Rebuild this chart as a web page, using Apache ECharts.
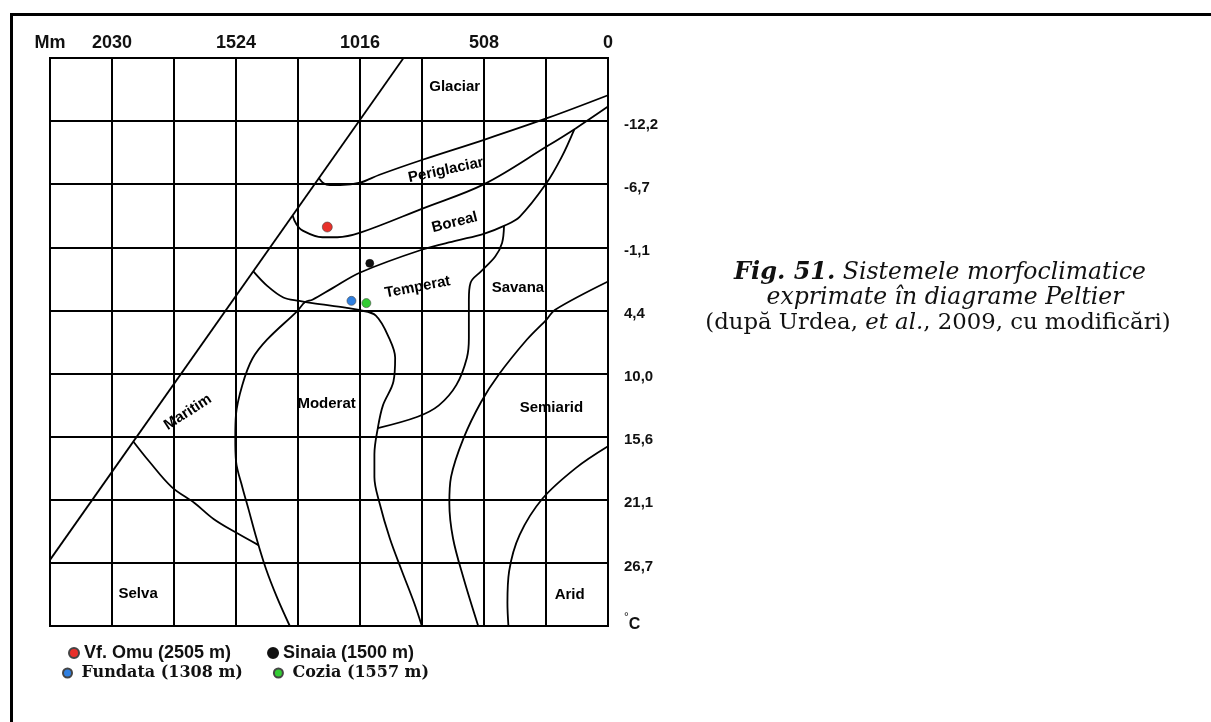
<!DOCTYPE html>
<html><head><meta charset="utf-8">
<script src="https://cdn.jsdelivr.net/npm/echarts@6/dist/echarts.min.js"></script>
<style>html,body{margin:0;padding:0;background:#fff}#c{width:1211px;height:722px}</style>
</head><body><div id="c"></div>
<script>
// Axis tick labels (x ticks every 254 mm = 10 in; y ticks every 10 °F, labelled in °C)
const rainTickLabels = ['0', '', '508', '', '1016', '', '1524', '', '2030', 'Mm'];
const tempTickLabels = ['', '-12,2', '-6,7', '-1,1', '4,4', '10,0', '15,6', '21,1', '26,7', '°C'];

// Boundary curves: [precipitation mm, temperature °C]
const maritimeDiagonal = [[837, -17.8], [2286, 26.4]];
const glacierBoundary = [[0, -14.5], [247, -12.5], [505, -10.6], [763, -8.8], [936, -7.5], [1016, -6.8], [1097, -6.6], [1140, -6.6], [1165, -6.75], [1184, -7.2]];
const periglacialBoundary = [[0, -13.5], [131, -11.6], [250, -10.0], [505, -6.7], [763, -4.5], [1015, -2.4], [1109, -2.0], [1170, -2.0], [1252, -2.6], [1278, -3.2], [1292, -3.9]];
const borealBoundary = [[138, -11.5], [189, -9.1], [254, -6.7], [362, -3.8], [426, -3.0], [509, -2.3], [621, -1.7], [763, -0.9], [1015, 1.1], [1130, 2.5], [1211, 3.5], [1241, 3.7], [1273, 4.5], [1396, 7.0], [1457, 8.7], [1498, 11.0], [1524, 13.6], [1527, 15.7], [1524, 17.7], [1498, 20.0], [1472, 22.0], [1440, 24.5], [1401, 27.2], [1356, 29.7], [1304, 32.2]];
const savanaBoundary = [[426, -3.0], [434, -1.5], [462, -0.3], [520, 1.0], [563, 2.0], [570, 3.5], [570, 5.2], [570, 6.9], [578, 8.6], [621, 11.0], [693, 12.8], [780, 13.8], [943, 14.8]];
const moderateBoundary = [[1453, 1.0], [1395, 2.3], [1330, 3.3], [1265, 3.6], [1211, 3.8], [1076, 4.2], [1021, 4.4], [951, 4.9], [894, 7.0], [872, 8.6], [879, 10.7], [922, 12.8], [943, 14.8], [957, 17.1], [957, 19.1], [936, 21.4], [894, 24.5], [844, 27.4], [794, 30.2], [763, 32.2]];
const semiaridBoundary = [[0, 1.9], [218, 4.4], [250, 5.2], [332, 7.0], [448, 10.1], [520, 12.5], [592, 15.7], [643, 19.1], [650, 21.4], [635, 24.5], [592, 28.0], [532, 32.2]];
const aridBoundary = [[0, 16.4], [131, 18.3], [268, 21.0], [362, 24.2], [405, 27.4], [412, 30.2], [408, 32.2]];
const selvaBoundary = [[1944, 16.0], [1881, 17.7], [1787, 20.0], [1694, 21.4], [1616, 22.8], [1524, 24.0], [1432, 25.1]];

// Stations: [mm, °C]
const stationNames = ['Vf. Omu (2505 m)', 'Sinaia (1500 m)', 'Fundata (1308 m)', 'Cozia (1557 m)'];
const stationValues = [[1150, -2.9], [976, 0.3], [1051, 3.6], [990, 3.8]];

// Region names: [name, mm, °C, text angle]
const regionLabels = [
  ['Glaciar', 628, -15.2, 0], ['Periglaciar', 664, -7.9, 12], ['Boreal', 628, -3.3, 14],
  ['Temperat', 780, 2.4, 11], ['Savana', 369, 2.5, 0], ['Moderat', 1153, 12.7, 0],
  ['Semiarid', 232, 13.0, 0], ['Maritim', 1721, 13.4, 33], ['Selva', 1925, 29.4, 0], ['Arid', 157, 29.5, 0]
];

const toF = c => c * 9 / 5 + 32;
const conv = arr => arr.map(p => [p[0], toF(p[1])]);

const curves = [maritimeDiagonal, glacierBoundary, periglacialBoundary, borealBoundary, savanaBoundary, moderateBoundary, semiaridBoundary, aridBoundary, selvaBoundary];
const stationColors = ['#e8302a', '#111111', '#2f7fe0', '#33cc33'];
const stationSizes = [10, 8, 9, 9];

const series = curves.map(c => ({
  type: 'line', data: conv(c), smooth: c.length > 2 ? 0.35 : 0, showSymbol: false, silent: true,
  lineStyle: { color: '#000', width: 1.8 }, z: 3
}));
series.push({
  type: 'scatter', silent: true, symbolSize: 0, z: 4, itemStyle: { opacity: 1 },
  data: regionLabels.map(r => ({ name: r[0], value: [r[1], toF(r[2])], label: { rotate: r[3] } })),
  label: { show: true, position: 'inside', opacity: 1, formatter: p => p.name, fontFamily: 'Liberation Sans, Arial, sans-serif', fontWeight: 'bold', fontSize: 15, color: '#000', textBorderWidth: 0 }
});
stationNames.forEach((n, i) => {
  series.push({
    type: 'scatter', name: n, data: [[stationValues[i][0], toF(stationValues[i][1])]], symbolSize: stationSizes[i], z: 5,
    itemStyle: { color: stationColors[i], borderColor: i === 1 ? '#111' : '#444', borderWidth: 0.6, opacity: 1 }
  });
});

const chart = echarts.init(document.getElementById('c'), null, { renderer: 'canvas' });
chart.setOption({
  animation: false,
  backgroundColor: '#fff',
  grid: { left: 50, top: 58, right: 603, bottom: 96, show: true, borderColor: '#000', borderWidth: 2, containLabel: false },
  xAxis: {
    type: 'value', min: 0, max: 2286, interval: 254, inverse: true, position: 'top',
    axisLine: { show: true, lineStyle: { color: '#000', width: 2 } }, axisTick: { show: false },
    splitLine: { show: true, lineStyle: { color: '#000', width: 2 } },
    axisLabel: { margin: 6, formatter: v => rainTickLabels[Math.round(v / 254)] || '', fontFamily: 'Liberation Sans, Arial, sans-serif', fontWeight: 'bold', fontSize: 18, color: '#111', showMinLabel: true, showMaxLabel: true }
  },
  yAxis: {
    type: 'value', min: 0, max: 90, interval: 10, inverse: true, position: 'right',
    axisLine: { show: true, lineStyle: { color: '#000', width: 2 } }, axisTick: { show: false },
    splitLine: { show: true, lineStyle: { color: '#000', width: 2 } },
    axisLabel: { margin: 16, align: 'left', padding: [7, 0, 0, 0],
      formatter: v => { const t = tempTickLabels[Math.round(v / 10)] || ''; return t === '°C' ? '{d|°}{c|C}' : t; },
      rich: { d: { fontSize: 12, fontWeight: 'normal', fontFamily: 'Liberation Sans, Arial, sans-serif', color: '#111', padding: [0, 0, 24, 0] },
              c: { fontSize: 16, fontWeight: 'bold', fontFamily: 'Liberation Sans, Arial, sans-serif', color: '#111', padding: [0, 0, 10, 0] } },
      fontFamily: 'Liberation Sans, Arial, sans-serif', fontWeight: 'bold', fontSize: 15, color: '#111', showMinLabel: true, showMaxLabel: true }
  },
  legend: [
    { data: stationNames.slice(0, 2), left: 63, top: 639, orient: 'horizontal', icon: 'circle', itemWidth: 10, itemHeight: 10, itemGap: 36, selectedMode: false,
      textStyle: { fontFamily: 'Liberation Sans, Arial, sans-serif', fontWeight: 'bold', fontSize: 18, color: '#111' } },
    { data: stationNames.slice(2), left: 57, top: 660, orient: 'horizontal', icon: 'circle', itemWidth: 18, itemHeight: 9, itemGap: 30, selectedMode: false,
      textStyle: { fontFamily: 'DejaVu Serif, serif', fontWeight: 'bold', fontSize: 16, color: '#111' } }
  ],
  graphic: [
    { type: 'line', shape: { x1: 10, y1: 14.5, x2: 1211, y2: 14.5 }, style: { stroke: '#000', lineWidth: 3 } },
    { type: 'line', shape: { x1: 11.5, y1: 13, x2: 11.5, y2: 722 }, style: { stroke: '#000', lineWidth: 3 } },
    { type: 'text', x: 940, y: 273, style: { text: '{b|Fig. 51.} Sistemele morfoclimatice', align: 'center', verticalAlign: 'middle', fill: '#111', font: 'italic 23.5px "DejaVu Serif", serif',
      rich: { b: { fontWeight: 'bold', fontStyle: 'italic', fontSize: 24, fontFamily: 'DejaVu Serif', fill: '#111' } } } },
    { type: 'text', x: 945, y: 298, style: { text: 'exprimate în diagrame Peltier', align: 'center', verticalAlign: 'middle', fill: '#111', font: 'italic 23.5px "DejaVu Serif", serif' } },
    { type: 'text', x: 938, y: 323, style: { text: '(după Urdea, {i|et al.}, 2009, cu modificări)', align: 'center', verticalAlign: 'middle', fill: '#111', font: '22.8px "DejaVu Serif", serif',
      rich: { i: { fontStyle: 'italic', fontSize: 22.8, fontFamily: 'DejaVu Serif', fill: '#111' } } } }
  ],
  series: series
});
</script>
</body></html>
